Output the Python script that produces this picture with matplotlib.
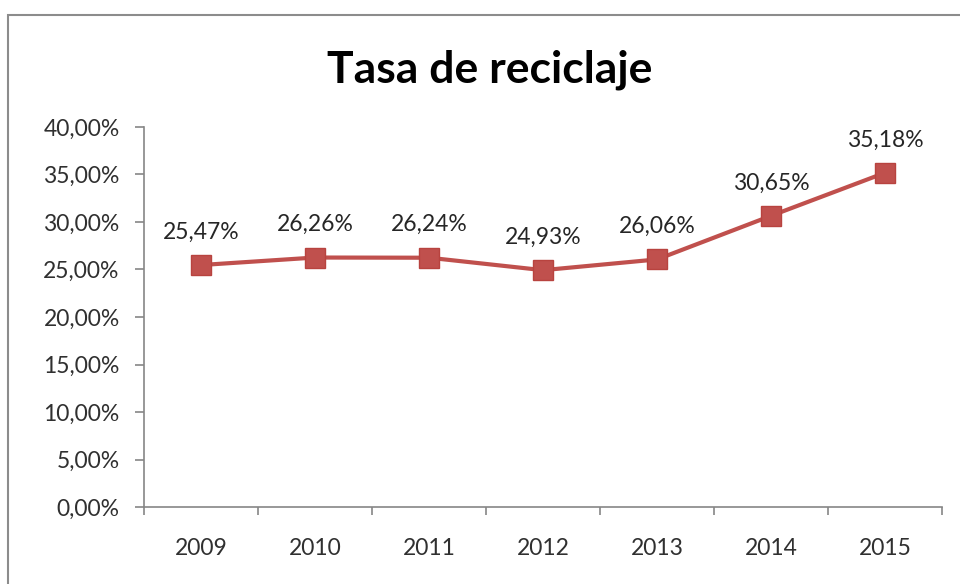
import matplotlib
matplotlib.use("Agg")
import matplotlib.pyplot as plt
from matplotlib.patches import Rectangle
from matplotlib.ticker import FuncFormatter, FixedLocator

years = ["2009", "2010", "2011", "2012", "2013", "2014", "2015"]
rates = [25.47, 26.26, 26.24, 24.93, 26.06, 30.65, 35.18]
title = "Tasa de reciclaje"

plt.rcParams['font.family'] = ['Lato', 'DejaVu Sans']

fig = plt.figure(figsize=(9.6, 5.84), dpi=100)
fig.patch.set_facecolor('white')
# outer chart border
fig.patches.append(Rectangle((8/960, -0.05), 1.2, (584-15)/584 + 0.05,
                             transform=fig.transFigure, fill=False,
                             edgecolor='#8c8c8c', linewidth=1.5))

ax = fig.add_axes([144/960, 1-507/584, (942-144)/960, (507-127)/584])
x = list(range(len(years)))
ax.plot(x, rates, color='#C0504D', linewidth=3, marker='s', markersize=14,
        markerfacecolor='#C0504D', markeredgecolor='#B8433F', zorder=3)

for xi, v in zip(x, rates):
    lbl = f"{v:.2f}".replace('.', ',') + "%"
    ax.annotate(lbl, (xi, v), xytext=(0, 19), textcoords='offset points',
                ha='center', va='baseline', fontsize=16.5, color='#262626')

ax.set_xlim(-0.5, len(years) - 0.5)
ax.set_ylim(0, 40)
ax.set_yticks(range(0, 41, 5))
ax.yaxis.set_major_formatter(FuncFormatter(lambda v, p: f"{v:.2f}".replace('.', ',') + "%"))
ax.set_xticks(x)
ax.set_xticklabels(years)
ax.xaxis.set_minor_locator(FixedLocator([i + 0.5 for i in range(-1, len(years))]))

for s in ['top', 'right']:
    ax.spines[s].set_visible(False)
for s in ['left', 'bottom']:
    ax.spines[s].set_color('#868686')
    ax.spines[s].set_linewidth(1.2)

ax.tick_params(axis='y', direction='out', length=6.5, width=1.2, color='#868686',
               labelsize=16.5, labelcolor='#303030', pad=11)
ax.tick_params(axis='x', which='major', length=0, labelsize=16.5,
               labelcolor='#303030', pad=22)
ax.tick_params(axis='x', which='minor', direction='out', length=6, width=1.2,
               color='#868686')

fig.text(490/960, 1-70/584, title, ha='center', va='center',
         fontsize=32, fontweight='bold', color='#000000')

fig.savefig("out.png", dpi=100)
